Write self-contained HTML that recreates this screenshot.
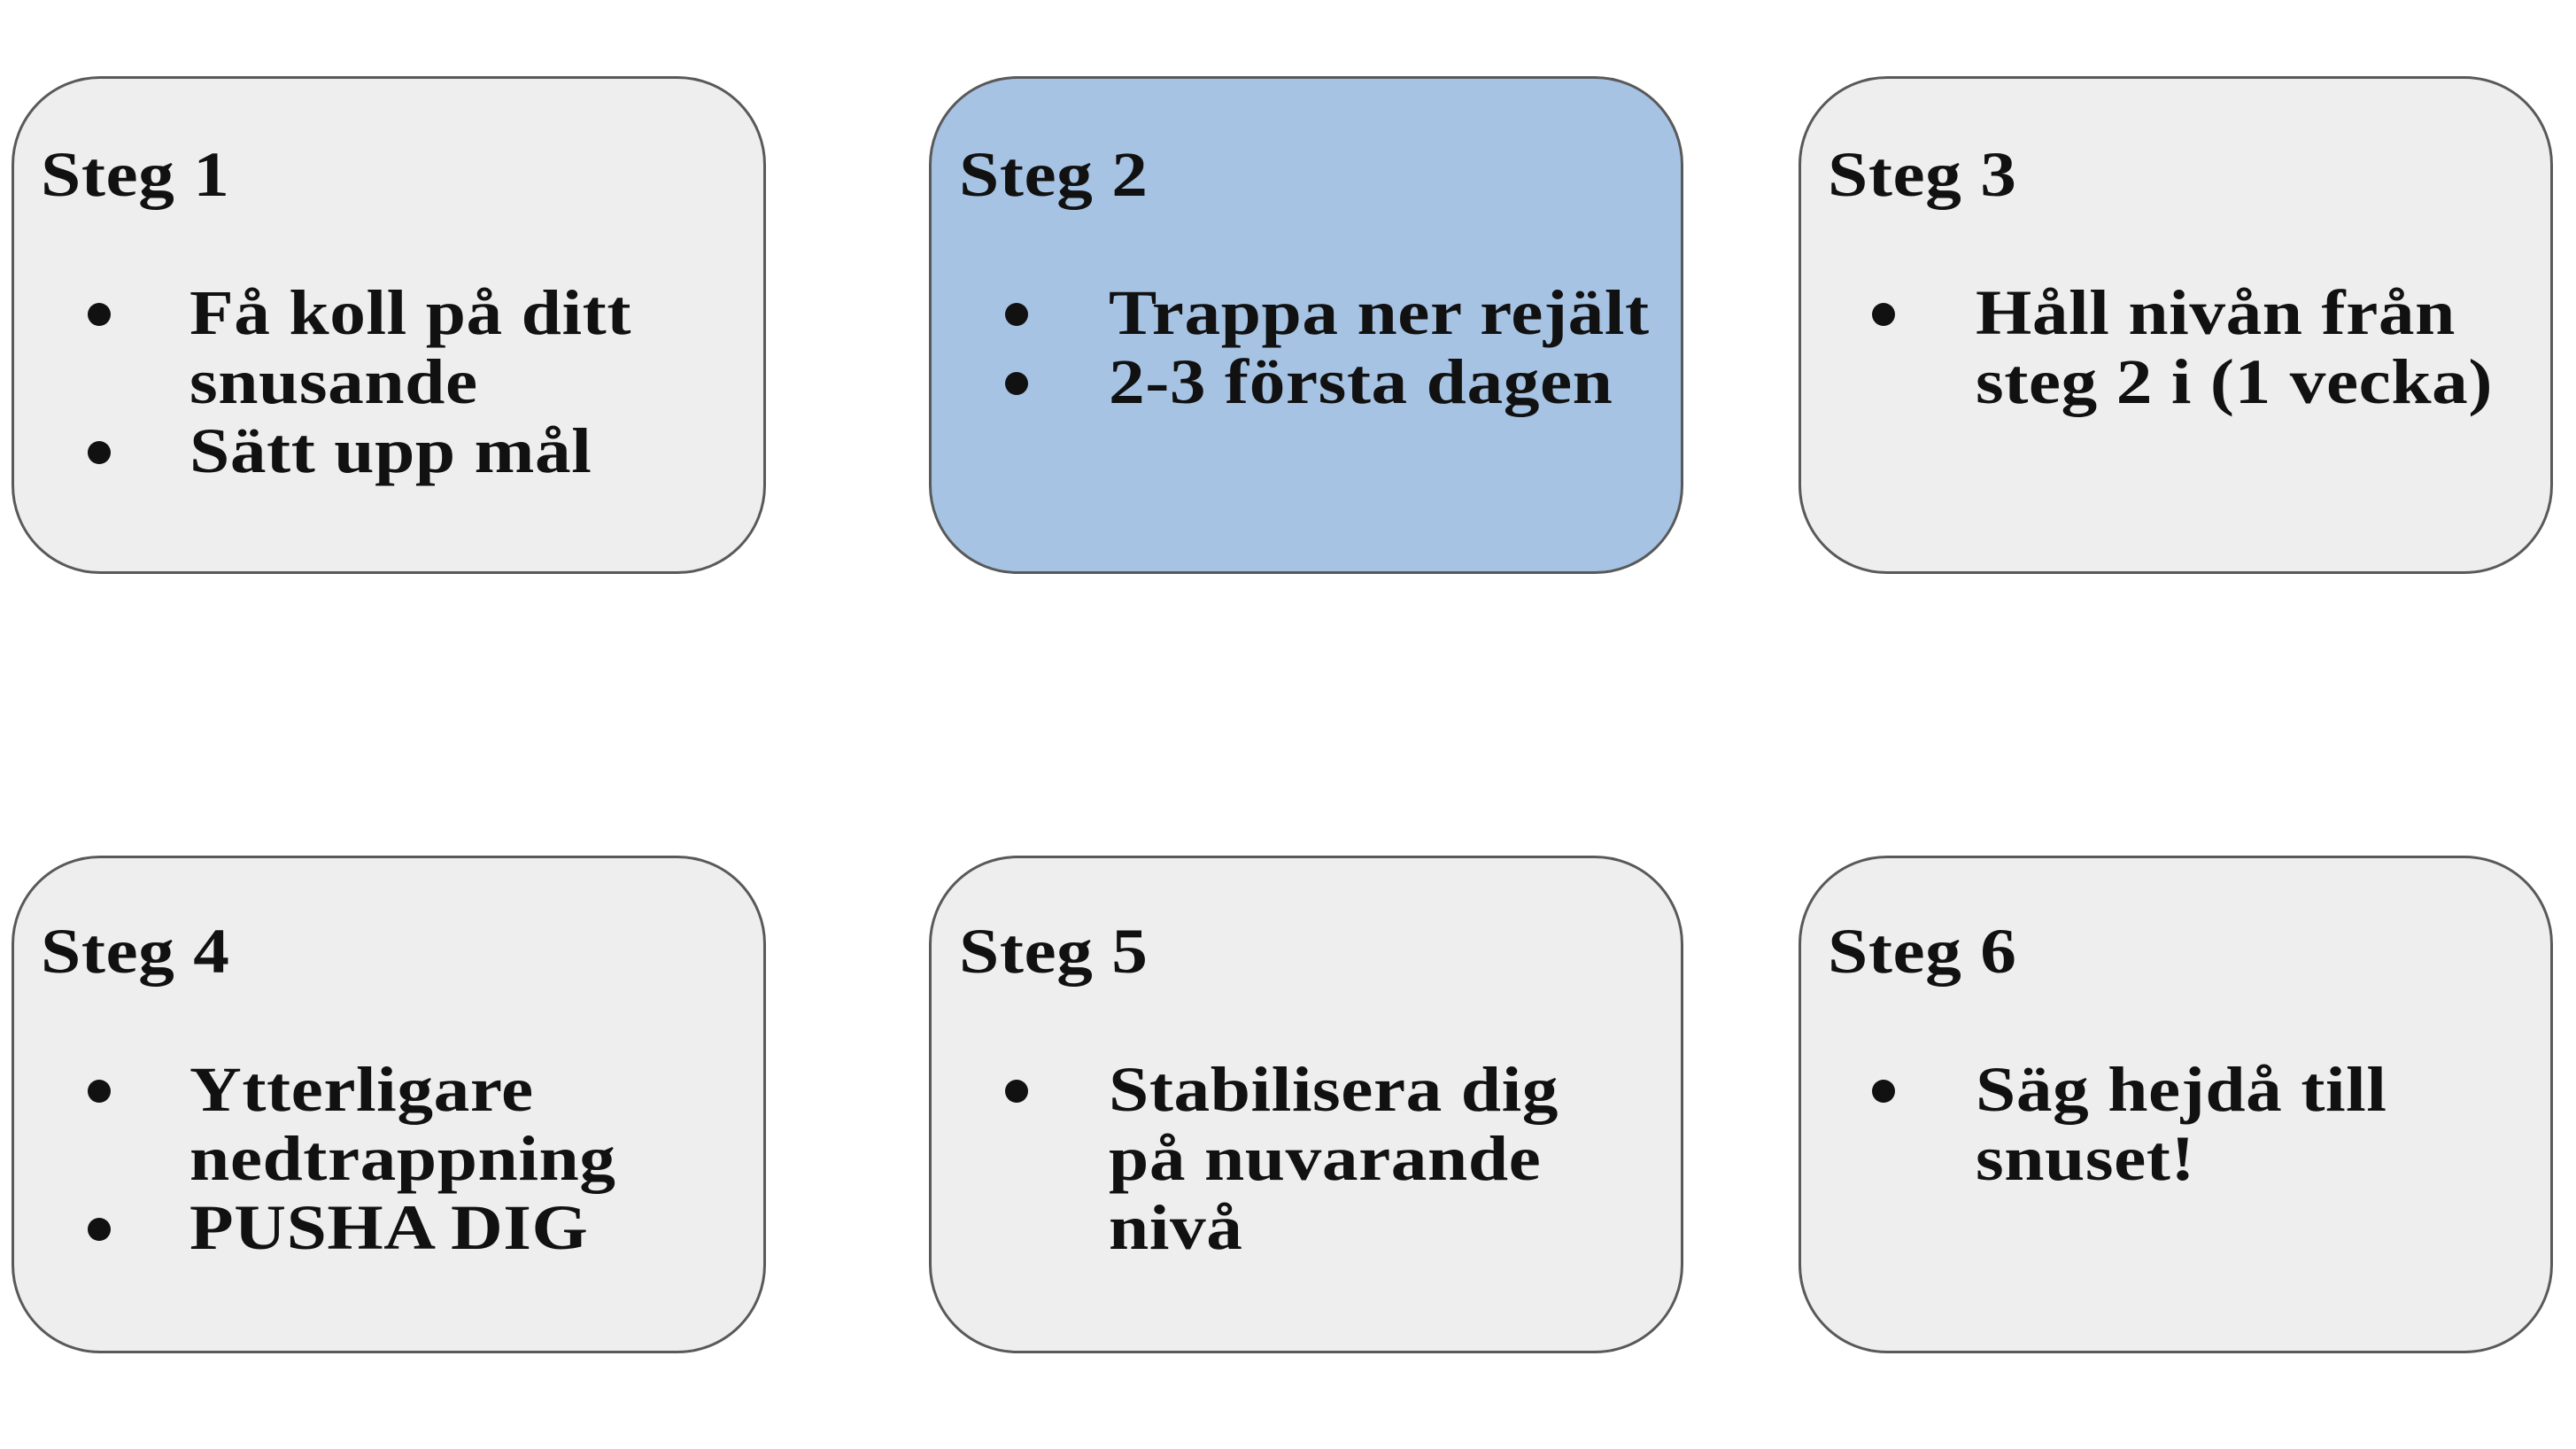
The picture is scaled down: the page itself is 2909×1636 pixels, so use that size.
<!DOCTYPE html>
<html><head><meta charset="utf-8"><style>
html,body{margin:0;padding:0;background:#fff;}
body{width:2909px;height:1636px;position:relative;overflow:hidden;font-family:"Liberation Serif","DejaVu Serif",serif;font-weight:bold;color:#111;}
.box{position:absolute;width:852px;height:562px;border:3px solid #595959;border-radius:100px;background:#eeeeee;box-sizing:border-box;}
.blue{background:#a6c3e4;}
.t{position:absolute;font-size:72px;line-height:1;white-space:nowrap;letter-spacing:0.5px;transform:scaleX(1.13);transform-origin:0 0;}
.b{position:absolute;width:26px;height:26px;border-radius:50%;background:#111;}
</style></head><body>
<div class="box" style="left:13px;top:86px"></div>
<div class="box blue" style="left:1049px;top:86px"></div>
<div class="box" style="left:2031px;top:86px"></div>
<div class="box" style="left:13px;top:966px"></div>
<div class="box" style="left:1049px;top:966px"></div>
<div class="box" style="left:2031px;top:966px"></div>

<!-- row 1 -->
<div class="t" style="left:46px;top:161px">Steg 1</div>
<div class="b" style="left:99px;top:342px"></div>
<div class="t" style="left:214px;top:317px">Få koll på ditt</div>
<div class="t" style="left:214px;top:395px">snusande</div>
<div class="b" style="left:99px;top:498px"></div>
<div class="t" style="left:214px;top:473px">Sätt upp mål</div>

<div class="t" style="left:1083px;top:161px">Steg 2</div>
<div class="b" style="left:1135px;top:342px"></div>
<div class="t" style="left:1252px;top:317px">Trappa ner rejält</div>
<div class="b" style="left:1135px;top:420px"></div>
<div class="t" style="left:1252px;top:395px">2-3 första dagen</div>

<div class="t" style="left:2064px;top:161px">Steg 3</div>
<div class="b" style="left:2114px;top:342px"></div>
<div class="t" style="left:2231px;top:317px">Håll nivån från</div>
<div class="t" style="left:2231px;top:395px">steg 2 i (1 vecka)</div>

<!-- row 2 -->
<div class="t" style="left:46px;top:1038px">Steg 4</div>
<div class="b" style="left:99px;top:1219px"></div>
<div class="t" style="left:214px;top:1194px">Ytterligare</div>
<div class="t" style="left:214px;top:1272px">nedtrappning</div>
<div class="b" style="left:99px;top:1375px"></div>
<div class="t" style="left:214px;top:1350px">PUSHA DIG</div>

<div class="t" style="left:1083px;top:1038px">Steg 5</div>
<div class="b" style="left:1135px;top:1219px"></div>
<div class="t" style="left:1252px;top:1194px">Stabilisera dig</div>
<div class="t" style="left:1252px;top:1272px">på nuvarande</div>
<div class="t" style="left:1252px;top:1350px">nivå</div>

<div class="t" style="left:2064px;top:1038px">Steg 6</div>
<div class="b" style="left:2114px;top:1219px"></div>
<div class="t" style="left:2231px;top:1194px">Säg hejdå till</div>
<div class="t" style="left:2231px;top:1272px">snuset!</div>
</body></html>
